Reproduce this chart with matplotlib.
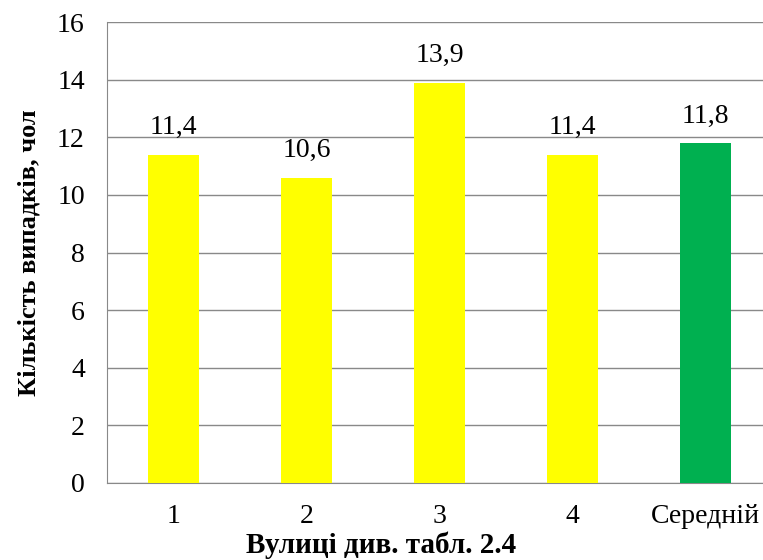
import matplotlib
matplotlib.use('Agg')
import matplotlib.pyplot as plt

categories = ['1', '2', '3', '4', 'Середній']
values = [11.4, 10.6, 13.9, 11.4, 11.8]
colors = ['#FFFF00', '#FFFF00', '#FFFF00', '#FFFF00', '#00B050']
y_ticks = [0, 2, 4, 6, 8, 10, 12, 14, 16]

plt.rcParams['font.family'] = ['Liberation Serif', 'DejaVu Serif']

fig = plt.figure(figsize=(7.63, 5.6), dpi=100)
# plot area runs a little past the right edge of the figure
ax = fig.add_axes([107 / 763, 77 / 560, 665 / 763, 461 / 560])

x = list(range(len(categories)))
ax.bar(x, values, width=0.39, color=colors, zorder=3)

for xi, v in zip(x, values):
    ax.text(xi, v + 0.5, f'{v:.1f}'.replace('.', ','), ha='center', va='bottom',
            fontsize=20)

ax.set_xlim(-0.5, 4.5)
ax.set_ylim(0, 16)
ax.set_yticks(y_ticks)
ax.set_xticks(x)
ax.set_xticklabels(categories)
ax.tick_params(axis='both', length=0, labelsize=20)
ax.tick_params(axis='y', pad=16)
ax.tick_params(axis='x', pad=15)

ax.grid(axis='y', color='#898989', linewidth=1.0, zorder=0)
for side in ['top', 'right']:
    ax.spines[side].set_visible(False)
ax.spines['left'].set_color('#898989')
ax.spines['bottom'].set_color('#898989')

ax.set_ylabel('Кількість випадків, чол', fontsize=19, fontweight='bold', labelpad=12)
# x label sits at the middle of the figure, not of the (wider) axes
ax.set_xlabel('Вулиці див. табл. 2.4', fontsize=21, fontweight='bold', labelpad=2,
              x=(381.5 - 107) / 665)

fig.savefig('out.png', dpi=100)
